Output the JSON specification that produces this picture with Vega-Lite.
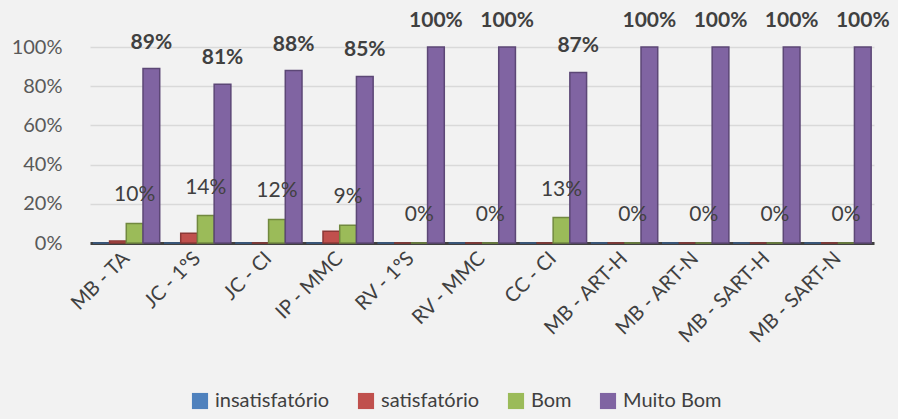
{
"$schema": "https://vega.github.io/schema/vega-lite/v6.json",
"width": 784,
"height": 196,
"autosize": "none",
"padding": {"left": 90, "top": 47, "right": 24, "bottom": 176},
"background": "#f2f2f2",
"config": {"view": {"stroke": null}, "font": "Lato"},
"data": {"values": [
{"cat": "MB - TA", "serie": "insatisfatório", "value": 0},
{"cat": "MB - TA", "serie": "satisfatório", "value": 0.01},
{"cat": "MB - TA", "serie": "Bom", "value": 0.10},
{"cat": "MB - TA", "serie": "Muito Bom", "value": 0.89},
{"cat": "JC - 1ºS", "serie": "insatisfatório", "value": 0},
{"cat": "JC - 1ºS", "serie": "satisfatório", "value": 0.05},
{"cat": "JC - 1ºS", "serie": "Bom", "value": 0.14},
{"cat": "JC - 1ºS", "serie": "Muito Bom", "value": 0.81},
{"cat": "JC - CI", "serie": "insatisfatório", "value": 0},
{"cat": "JC - CI", "serie": "satisfatório", "value": 0},
{"cat": "JC - CI", "serie": "Bom", "value": 0.12},
{"cat": "JC - CI", "serie": "Muito Bom", "value": 0.88},
{"cat": "IP - MMC", "serie": "insatisfatório", "value": 0},
{"cat": "IP - MMC", "serie": "satisfatório", "value": 0.06},
{"cat": "IP - MMC", "serie": "Bom", "value": 0.09},
{"cat": "IP - MMC", "serie": "Muito Bom", "value": 0.85},
{"cat": "RV - 1ºS", "serie": "insatisfatório", "value": 0},
{"cat": "RV - 1ºS", "serie": "satisfatório", "value": 0},
{"cat": "RV - 1ºS", "serie": "Bom", "value": 0},
{"cat": "RV - 1ºS", "serie": "Muito Bom", "value": 1.0},
{"cat": "RV - MMC", "serie": "insatisfatório", "value": 0},
{"cat": "RV - MMC", "serie": "satisfatório", "value": 0},
{"cat": "RV - MMC", "serie": "Bom", "value": 0},
{"cat": "RV - MMC", "serie": "Muito Bom", "value": 1.0},
{"cat": "CC - CI", "serie": "insatisfatório", "value": 0},
{"cat": "CC - CI", "serie": "satisfatório", "value": 0},
{"cat": "CC - CI", "serie": "Bom", "value": 0.13},
{"cat": "CC - CI", "serie": "Muito Bom", "value": 0.87},
{"cat": "MB - ART-H", "serie": "insatisfatório", "value": 0},
{"cat": "MB - ART-H", "serie": "satisfatório", "value": 0},
{"cat": "MB - ART-H", "serie": "Bom", "value": 0},
{"cat": "MB - ART-H", "serie": "Muito Bom", "value": 1.0},
{"cat": "MB - ART-N", "serie": "insatisfatório", "value": 0},
{"cat": "MB - ART-N", "serie": "satisfatório", "value": 0},
{"cat": "MB - ART-N", "serie": "Bom", "value": 0},
{"cat": "MB - ART-N", "serie": "Muito Bom", "value": 1.0},
{"cat": "MB - SART-H", "serie": "insatisfatório", "value": 0},
{"cat": "MB - SART-H", "serie": "satisfatório", "value": 0},
{"cat": "MB - SART-H", "serie": "Bom", "value": 0},
{"cat": "MB - SART-H", "serie": "Muito Bom", "value": 1.0},
{"cat": "MB - SART-N", "serie": "insatisfatório", "value": 0},
{"cat": "MB - SART-N", "serie": "satisfatório", "value": 0},
{"cat": "MB - SART-N", "serie": "Bom", "value": 0},
{"cat": "MB - SART-N", "serie": "Muito Bom", "value": 1.0}
]},
"encoding": {
  "x": {"field": "cat", "type": "nominal",
    "sort": ["MB - TA", "JC - 1ºS", "JC - CI", "IP - MMC", "RV - 1ºS", "RV - MMC", "CC - CI", "MB - ART-H", "MB - ART-N", "MB - SART-H", "MB - SART-N"],
    "scale": {"paddingInner": 0.06, "paddingOuter": 0.04},
    "axis": {"title": null, "labelAngle": -45, "labelFontSize": 20, "labelColor": "#404040", "domainColor": "#404040", "domainWidth": 3, "ticks": false, "labelPadding": 12, "labelAlign": "right", "labelBaseline": "middle"}},
  "xOffset": {"field": "serie", "type": "nominal", "scale": {"domain": ["insatisfatório", "satisfatório", "Bom", "Muito Bom"]}},
  "y": {"field": "value", "type": "quantitative",
    "scale": {"domain": [0, 1]},
    "axis": {"title": null, "format": ".0%", "values": [0, 0.2, 0.4, 0.6, 0.8, 1.0], "domain": false, "ticks": false, "gridColor": "#d9d9d9", "gridWidth": 1.5, "labelFontSize": 20, "labelColor": "#595959", "labelPadding": 28}}
},
"layer": [
  {"mark": {"type": "bar", "strokeWidth": 1.5},
   "encoding": {
     "color": {"field": "serie", "type": "nominal",
       "scale": {"domain": ["insatisfatório", "satisfatório", "Bom", "Muito Bom"], "range": ["#4f81bd", "#c0504d", "#9bbb59", "#8064a2"]},
       "legend": {"title": null, "orient": "none", "legendX": 100, "legendY": 344, "direction": "horizontal", "symbolType": "square", "symbolSize": 260, "symbolStrokeWidth": 0, "labelFontSize": 20, "labelColor": "#404040", "columnPadding": 26, "labelOffset": 5}},
     "stroke": {"field": "serie", "type": "nominal",
       "scale": {"domain": ["insatisfatório", "satisfatório", "Bom", "Muito Bom"], "range": ["#385d8a", "#8c3836", "#71893f", "#5c4776"]},
       "legend": null}
   }},
  {"transform": [{"filter": "datum.serie == 'Muito Bom'"}],
   "mark": {"type": "text", "fontWeight": "bold", "fontSize": 21, "dy": -26, "color": "#404040", "baseline": "middle"},
   "encoding": {"text": {"field": "value", "type": "quantitative", "format": ".0%"}}},
  {"transform": [{"filter": "datum.serie == 'Bom'"}],
   "mark": {"type": "text", "fontSize": 21, "dy": -28, "color": "#404040", "baseline": "middle"},
   "encoding": {"text": {"field": "value", "type": "quantitative", "format": ".0%"}}}
]
}
